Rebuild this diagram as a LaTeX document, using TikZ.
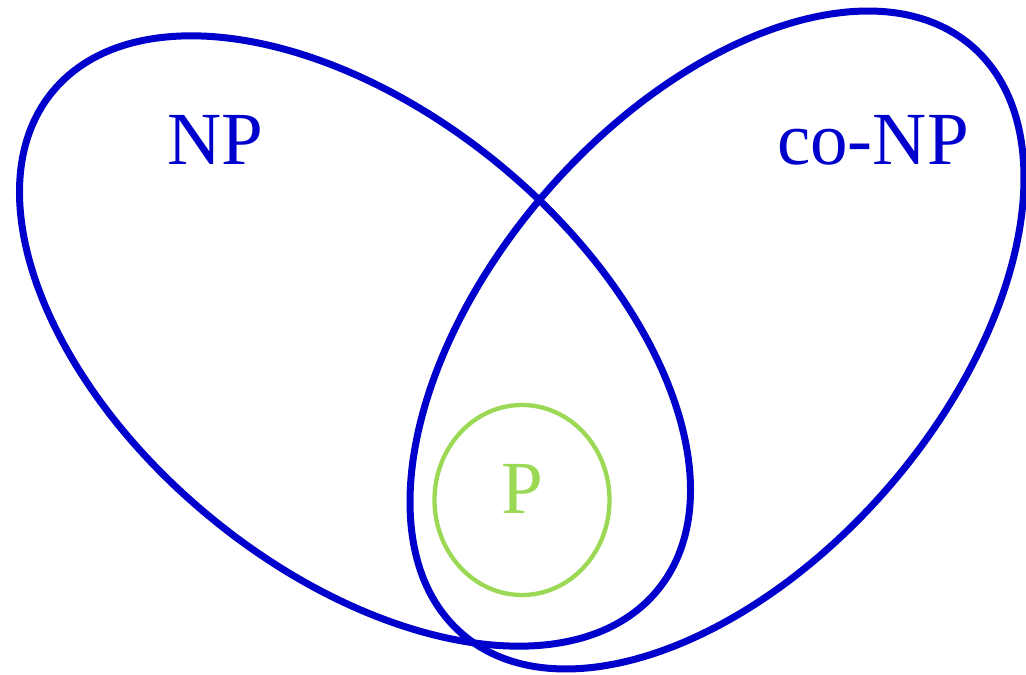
\documentclass[tikz,border=0pt]{standalone}
\usepackage{fontspec}
\setmainfont{Liberation Serif}
\usetikzlibrary{shapes.geometric}
\definecolor{setblue}{RGB}{0,0,204}
\definecolor{setgreen}{RGB}{155,217,85}
\begin{document}
\begin{tikzpicture}[x=1pt,y=1pt,
  bigset/.style={draw=setblue, line width=7pt, ellipse, inner sep=0pt, outer sep=0pt,
    minimum width=784pt, minimum height=456pt},
  smallset/.style={draw=setgreen, line width=4.3pt, ellipse, inner sep=0pt, outer sep=0pt,
    minimum width=175pt, minimum height=190pt},
  setlabel/.style={font=\fontsize{75}{80}\selectfont, inner sep=0pt}]
\useasboundingbox (0,0) rectangle (1026,675);
\node[bigset, rotate=-39.5] (np) at (355,334) {};
\node[bigset, rotate=49, minimum width=778pt, minimum height=452pt] (conp) at (717,335) {};
\node[smallset] (p) at (522,175) {};
\node[setlabel, text=setblue] (nplabel) at (215,535) {NP};
\node[setlabel, text=setblue] (conplabel) at (873,535) {co-NP};
\node[setlabel, text=setgreen] (plabel) at (522,186) {P};
\end{tikzpicture}
\end{document}
